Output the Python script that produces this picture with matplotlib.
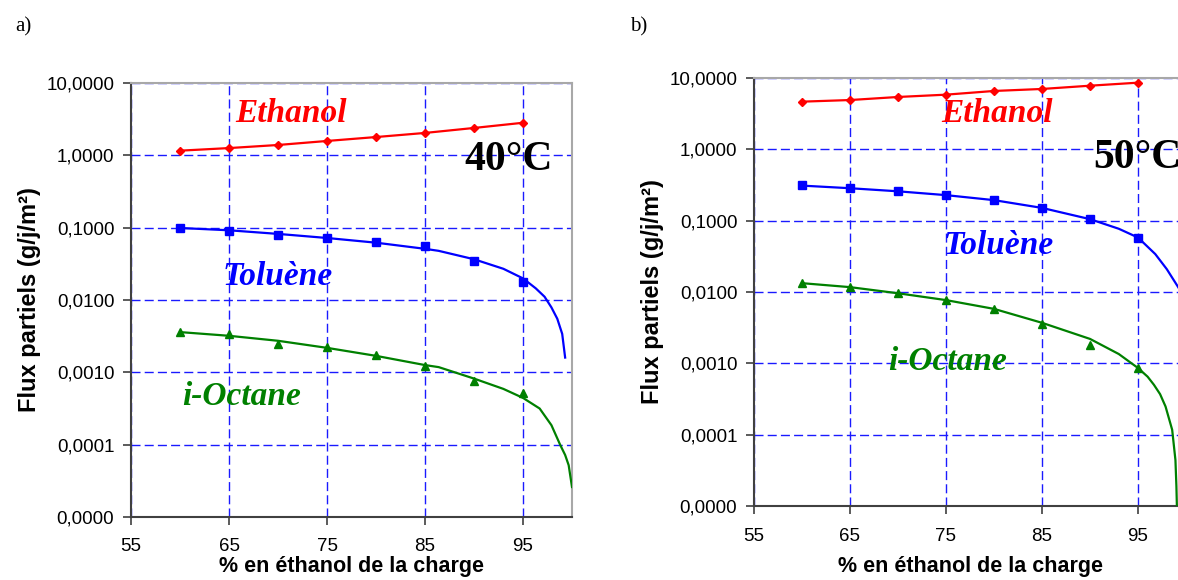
import numpy as np
import matplotlib.pyplot as plt
from matplotlib.ticker import FixedLocator, FuncFormatter

# charge composition (% ethanol)
x_pts = [60, 65, 70, 75, 80, 85, 90, 95]

# a) 40 °C - measured partial fluxes (g/j/m2)
eth40 = [1.16, 1.26, 1.39, 1.58, 1.79, 2.04, 2.39, 2.82]
tol40 = [0.100, 0.091, 0.080, 0.0727, 0.064, 0.0557, 0.0349, 0.0179]
oct40 = [0.00357, 0.00339, 0.00244, 0.00222, 0.00175, 0.00123, 0.00075, 0.00051]

# a) trend curves
tol40_fit_x = [60, 65, 70, 75, 80, 85, 86.4, 90, 93, 95, 96.3, 97.2, 97.9, 98.5, 99.0, 99.3]
tol40_fit_y = [0.099, 0.092, 0.082, 0.072, 0.062, 0.051, 0.0478, 0.0366, 0.027, 0.0199, 0.0145,
               0.0111, 0.0079, 0.0055, 0.0034, 0.0016]
oct40_fit_x = [60, 65, 70, 75, 80, 85, 86.4, 90, 93, 95, 96.7, 97.9, 98.8, 99.3, 99.66, 100]
oct40_fit_y = [0.0036, 0.0032, 0.00273, 0.00218, 0.00169, 0.00126, 0.00118, 0.00082, 0.00059,
               0.000443, 0.000316, 0.000186, 0.000099, 0.000072, 0.000052, 0.000026]

# b) 50 °C
eth50 = [4.66, 4.91, 5.42, 5.84, 6.58, 7.02, 7.8, 8.6]
tol50 = [0.316, 0.286, 0.26, 0.231, 0.194, 0.150, 0.105, 0.058]
oct50 = [0.0133, 0.0117, 0.0096, 0.0077, 0.0057, 0.0036, 0.00178, 0.00085]

tol50_fit_x = [60, 65, 70, 75, 80, 85, 90, 93, 95, 96.8, 98.0, 99.1, 99.6]
tol50_fit_y = [0.31, 0.285, 0.258, 0.228, 0.194, 0.151, 0.105, 0.077, 0.058, 0.034, 0.0209, 0.0122, 0.0095]
oct50_fit_x = [60, 65, 70, 75, 80, 85, 90, 93, 95, 96.0, 96.66, 97.3, 97.87, 98.56, 98.9, 99.0, 99.05]
oct50_fit_y = [0.0133, 0.0117, 0.0096, 0.0077, 0.0058, 0.0037, 0.0022, 0.00135, 0.00086, 0.00065, 0.0005,
               0.00037, 0.000248, 0.000117, 0.000044, 0.000019, 0.00001]

y_ticks = [1e-5, 1e-4, 1e-3, 1e-2, 1e-1, 1, 10]
x_ticks = [55, 65, 75, 85, 95]

red, blue, green = '#ff0000', '#0000ff', '#008000'
sans = ['Liberation Sans', 'DejaVu Sans']
serif = ['Liberation Serif', 'DejaVu Serif']


def fmt(v, pos):
    return f'{v:.4f}'.replace('.', ',')


def setup(ax, xtickpad, xlabel_y):
    ax.set_yscale('log')
    ax.set_xlim(55, 100)
    ax.set_ylim(1e-5, 10)
    ax.yaxis.set_major_locator(FixedLocator(y_ticks))
    ax.yaxis.set_minor_locator(FixedLocator([]))
    ax.yaxis.set_major_formatter(FuncFormatter(fmt))
    ax.xaxis.set_major_locator(FixedLocator(x_ticks))
    ax.grid(True, color='#1a1aff', linestyle=(0, (6.5, 3)), linewidth=1.0)
    ax.set_axisbelow(True)
    for s in ['top', 'right']:
        ax.spines[s].set_color('#a8a8a8')
        ax.spines[s].set_linewidth(1.5)
    for s in ['left', 'bottom']:
        ax.spines[s].set_color('#404040')
        ax.spines[s].set_linewidth(1.5)
    ax.tick_params(axis='y', direction='out', length=6, width=1.2, color='#404040', labelsize=13.5, pad=6)
    ax.tick_params(axis='x', direction='out', length=6, width=1.2, color='#404040', labelsize=13.5,
                   pad=xtickpad)
    for lab in ax.get_xticklabels() + ax.get_yticklabels():
        lab.set_family(sans)
    ax.set_xlabel('% en éthanol de la charge', family=sans, fontweight='bold', fontsize=15.5)
    ax.xaxis.set_label_coords(0.5, xlabel_y)
    ax.set_ylabel('Flux partiels (g/j/m²)', family=sans, fontweight='bold', fontsize=17, labelpad=4)


def draw(ax, eth, tol, oct_, tfx, tfy, ofx, ofy):
    ax.plot(x_pts, eth, color=red, linewidth=1.6, marker='D', markersize=4, zorder=3)
    ax.plot(tfx, tfy, color=blue, linewidth=1.6, zorder=3)
    ax.plot(x_pts, tol, color=blue, linestyle='none', marker='s', markersize=6, zorder=3)
    ax.plot(ofx, ofy, color=green, linewidth=1.6, zorder=3)
    ax.plot(x_pts, oct_, color=green, linestyle='none', marker='^', markersize=6, zorder=3)


fig = plt.figure(figsize=(11.78, 5.8), dpi=100)
W, H = 1178, 580
ax1 = fig.add_axes([131 / W, (H - 517) / H, (572 - 131) / W, (517 - 83) / H])
ax2 = fig.add_axes([754 / W, (H - 506) / H, (1186 - 754) / W, (506 - 78) / H])

setup(ax1, 9, -(556 - 517) / (517 - 83))
draw(ax1, eth40, tol40, oct40, tol40_fit_x, tol40_fit_y, oct40_fit_x, oct40_fit_y)
lab_kw = dict(family=serif, fontweight='bold', style='italic', fontsize=24, ha='center', va='center')
ax1.text(71.3, 3.8, 'Ethanol', color=red, **lab_kw)
ax1.text(70, 0.021, 'Toluène', color=blue, **lab_kw)
ax1.text(66.3, 0.00046, 'i-Octane', color=green, **lab_kw)
ax1.text(93.5, 0.86, '40°C', family=serif, fontweight='bold', fontsize=30, ha='center', va='center')

setup(ax2, 10, -(556 - 506) / (506 - 78))
draw(ax2, eth50, tol50, oct50, tol50_fit_x, tol50_fit_y, oct50_fit_x, oct50_fit_y)
ax2.text(80.3, 3.2, 'Ethanol', color=red, **lab_kw)
ax2.text(80.5, 0.0455, 'Toluène', color=blue, **lab_kw)
ax2.text(75.2, 0.00105, 'i-Octane', color=green, **lab_kw)
ax2.text(90.3, 0.755, '50°C', family=serif, fontweight='bold', fontsize=30, ha='left', va='center')

fig.text(23 / W, 1 - 27 / H, 'a)', family=serif, fontsize=15, ha='center', va='center')
fig.text(639 / W, 1 - 27 / H, 'b)', family=serif, fontsize=15, ha='center', va='center')

fig.savefig('out.png', dpi=100)
